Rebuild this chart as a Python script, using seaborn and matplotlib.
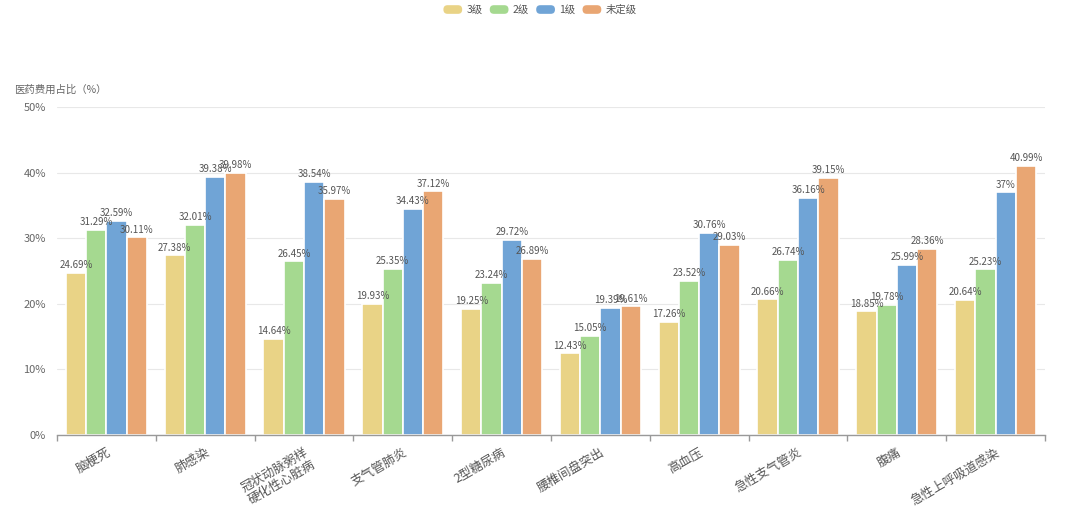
import matplotlib
matplotlib.use("Agg")
import matplotlib.pyplot as plt
import seaborn as sns
import pandas as pd
from matplotlib.patches import FancyBboxPatch
from matplotlib.legend_handler import HandlerPatch

categories = ["脑梗死", "肺感染", "冠状动脉粥样\n硬化性心脏病", "支气管肺炎", "2型糖尿病",
              "腰椎间盘突出", "高血压", "急性支气管炎", "腹痛", "急性上呼吸道感染"]
series = ["3级", "2级", "1级", "未定级"]
grade3 = [24.69, 27.38, 14.64, 19.93, 19.25, 12.43, 17.26, 20.66, 18.85, 20.64]
grade2 = [31.29, 32.01, 26.45, 25.35, 23.24, 15.05, 23.52, 26.74, 19.78, 25.23]
grade1 = [32.59, 39.38, 38.54, 34.43, 29.72, 19.39, 30.76, 36.16, 25.99, 37]
ungraded = [30.11, 39.98, 35.97, 37.12, 26.89, 19.61, 29.03, 39.15, 28.36, 40.99]
colors = ["#E9D386", "#A5D990", "#70A4D6", "#E9A673"]
yticks = [0, 10, 20, 30, 40, 50]

sns.set_theme(style="white")
plt.rcParams['font.family'] = ['Noto Sans CJK SC', 'DejaVu Sans']

rows = []
for s, vals in zip(series, [grade3, grade2, grade1, ungraded]):
    for c, v in zip(categories, vals):
        rows.append({"cat": c, "series": s, "value": v})
df = pd.DataFrame(rows)

fig = plt.figure(figsize=(10.8, 5.19), dpi=100)
ax = fig.add_axes([57/1080, 1-435/519, (1045-57)/1080, (435-107)/519])

sns.barplot(data=df, x="cat", y="value", hue="series", order=categories, hue_order=series,
            palette=colors, width=0.82, edgecolor="white", linewidth=1.2, ax=ax,
            legend=False, errorbar=None, saturation=1)

for cont, vals in zip(ax.containers, [grade3, grade2, grade1, ungraded]):
    labels = [f"{v:g}%" for v in vals]
    ax.bar_label(cont, labels=labels, padding=2, fontsize=7, color="#555555")

ax.set_ylim(0, 50)
ax.set_xlim(-0.5, len(categories) - 0.5)
ax.set_yticks(yticks)
ax.set_yticklabels([f"{t}%" for t in yticks], fontsize=8, color="#666666")
ax.yaxis.grid(True, color="#E8E8E8", linewidth=0.8)
ax.set_axisbelow(True)
for sp in ["left", "right", "top"]:
    ax.spines[sp].set_visible(False)
ax.spines["bottom"].set_color("#999999")
ax.spines["bottom"].set_linewidth(1)
ax.tick_params(axis="y", length=0, pad=8)
ax.set_xlabel("")
ax.set_ylabel("")

ax.set_xticks(range(len(categories)))
ax.set_xticklabels(categories, rotation=30, ha="right", rotation_mode="anchor",
                   fontsize=9, color="#555555", linespacing=1.0)
ax.tick_params(axis="x", which="major", length=0, pad=8)
ax.set_xticks([i - 0.5 for i in range(len(categories) + 1)], minor=True)
ax.tick_params(axis="x", which="minor", length=4, color="#999999", width=1, bottom=True)

fig.text(14/1080, 1-90/519, "医药费用占比（%）", fontsize=7.5, color="#666666", va="center", ha="left")

class RoundHandler(HandlerPatch):
    def create_artists(self, legend, orig_handle, xdescent, ydescent, width, height, fontsize, trans):
        p = FancyBboxPatch((-xdescent, -ydescent), width, height,
                           boxstyle="round,pad=0,rounding_size=3",
                           facecolor=orig_handle.get_facecolor(), edgecolor="none", transform=trans)
        return [p]

handles = [plt.Rectangle((0, 0), 1, 1, facecolor=c) for c in colors]
leg = fig.legend(handles, series, loc="center", bbox_to_anchor=(0.5, 1-10/519), ncol=4,
                 frameon=False, fontsize=7.5, handlelength=1.8, handleheight=0.9,
                 columnspacing=0.7, handletextpad=0.4,
                 handler_map={plt.Rectangle: RoundHandler()})
for t in leg.get_texts():
    t.set_color("#555555")

fig.savefig("out.png", dpi=100, facecolor="white")
